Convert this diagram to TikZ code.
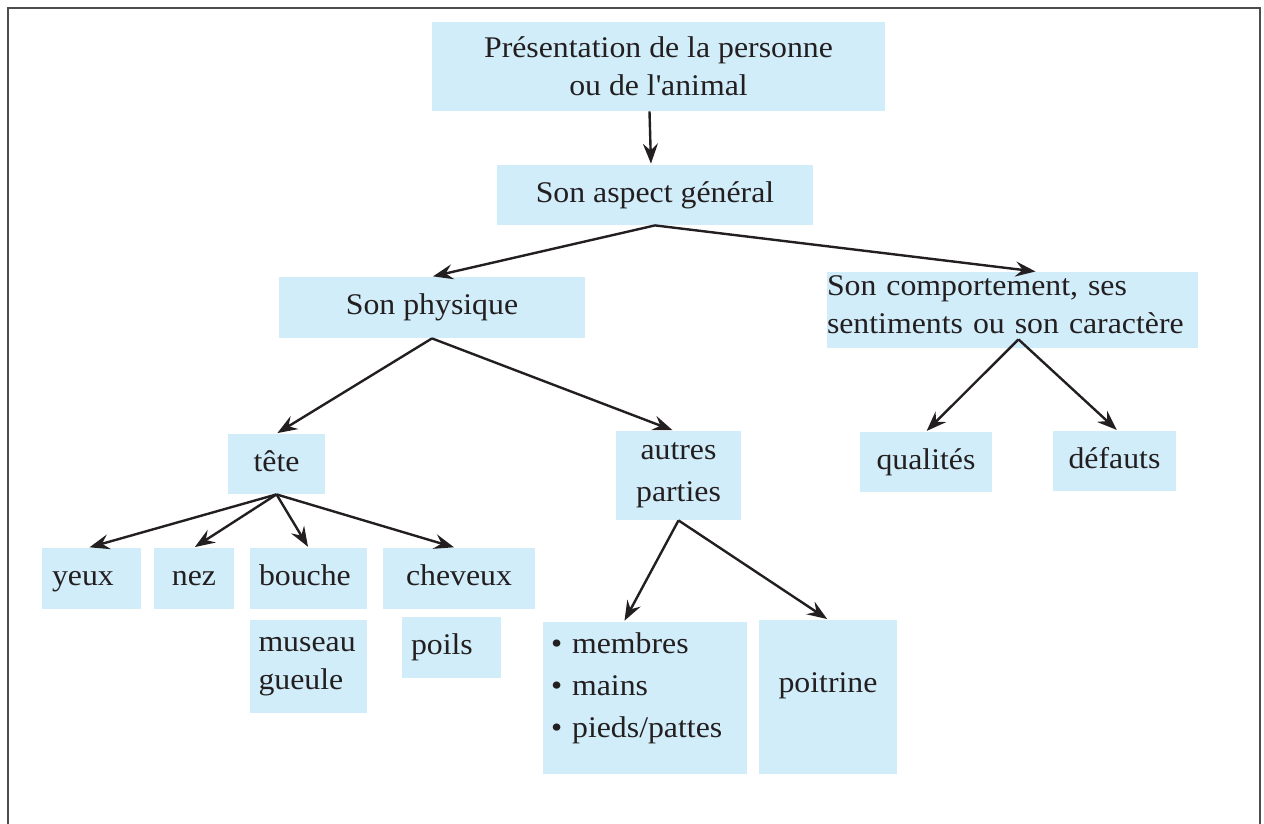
\documentclass[tikz,border=0pt]{standalone}
\usepackage{fontspec}
\setmainfont{Liberation Serif}[FakeStretch=1.06]
\usetikzlibrary{arrows.meta}
\definecolor{bleuclair}{RGB}{209,237,249}
\definecolor{encre}{RGB}{35,31,32}

\begin{document}
\begin{tikzpicture}[x=0.5pt,y=-0.5pt]
    \useasboundingbox (0,0) rectangle (1264,824);
    \draw[encre!80,line width=0.9pt] (8,824) -- (8,8) -- (1260,8) -- (1260,824);

    \begin{scope}[every node/.style={fill=bleuclair,inner sep=0pt,text=encre,
          font=\fontsize{15}{19}\selectfont},
        ligne/.style={text height=10.5pt,text depth=3.5pt}]
      \node[align=center,minimum width=226.5pt,minimum height=44.5pt] (pres) at (658.5,66.5)
        {Présentation de la personne\\ou de l\textquotesingle animal};
      \node[ligne,minimum width=158pt,minimum height=30pt] (aspect) at (655,195) {Son aspect général};
      \node[ligne,minimum width=153pt,minimum height=30.5pt] (physique) at (432,307.5) {Son physique};
      \node[align=left,text width=185.5pt,minimum height=38pt] (comport) at (1012.5,310)
        {Son comportement, ses\\sentiments ou son caractère\\[-13.5pt]\mbox{}};
      \node[ligne,minimum width=48.5pt,minimum height=30pt] (tete) at (276.5,464) {tête};
      \node[align=center,minimum width=62.5pt,minimum height=44.5pt,
        font=\fontsize{15}{21}\selectfont] (autres) at (678.5,475.5) {autres\\parties};
      \node[ligne,minimum width=66pt,minimum height=30pt] (qualites) at (926,462) {qualités};
      \node[ligne,minimum width=61.5pt,minimum height=30pt] (defauts) at (1114.5,461) {défauts};
      % rang du bas
      \node[ligne,align=left,text width=39.5pt,inner xsep=5pt,minimum height=30.5pt] (yeux) at (91.5,578.5) {yeux};
      \node[ligne,minimum width=40pt,minimum height=30.5pt] (nez) at (194,578.5) {nez};
      \node[ligne,align=left,text width=49.5pt,inner xsep=4.5pt,minimum height=30.5pt] (bouche) at (308.5,578.5) {bouche};
      \node[ligne,minimum width=76pt,minimum height=30.5pt] (cheveux) at (459,578.5) {cheveux};
      \node[align=left,text width=50pt,inner xsep=4.25pt,minimum height=46.5pt] (museau) at (308.5,666.5) {museau\\gueule};
      \node[ligne,align=left,text width=40.5pt,inner xsep=4.5pt,minimum height=30.5pt] (poils) at (451.5,647.5) {poils};
      \node[align=left,text width=94pt,inner xsep=4pt,minimum height=76pt,
        font=\fontsize{15}{21}\selectfont] (membres) at (645,698)
        {\textbullet\ membres\\\textbullet\ mains\\\textbullet\ pieds/pattes\\[-8.5pt]\mbox{}};
      \node[ligne,text depth=15.5pt,minimum width=69pt,minimum height=77pt] (poitrine) at (828,697) {poitrine};
    \end{scope}

    \begin{scope}[>={Stealth[length=10pt,width=7.5pt,inset=3.5pt]},
        every edge/.style={draw=encre,line width=1.2pt,shorten >=0.5pt}]
      \path [->] ([xshift=-4.5pt]pres.south) edge ([xshift=-2pt]aspect.north);
      \path [->] (aspect.south) edge (physique.north);
      \path [->] (aspect.south) edge ([xshift=12pt]comport.north);
      \path [->] (physique.south) edge (tete.north);
      \path [->] (physique.south) edge ([xshift=-2.5pt]autres.north);
      \path [->] ([xshift=3pt,yshift=4.5pt]comport.south) edge (qualites.north);
      \path [->] ([xshift=3pt,yshift=4.5pt]comport.south) edge ([xshift=1.5pt]defauts.north);
      \path [->] (tete.south) edge ([xshift=-1.5pt]yeux.north);
      \path [->] (tete.south) edge (nez.north);
      \path [->] (tete.south) edge (bouche.north);
      \path [->] (tete.south) edge ([xshift=-2pt]cheveux.north);
      \path [->] (autres.south) edge ([xshift=-10.5pt]membres.north);
      \path [->] (autres.south) edge (poitrine.north);
    \end{scope}
  \end{tikzpicture}
\end{document}
